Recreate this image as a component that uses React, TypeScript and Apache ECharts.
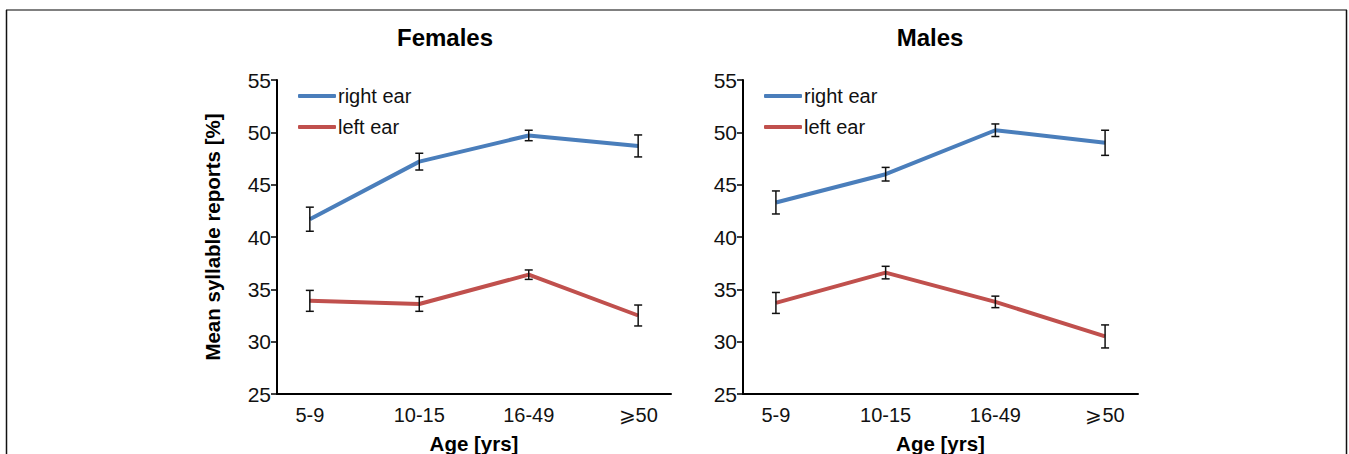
import React, { useEffect, useRef } from "react";
import * as echarts from "echarts";

const ageGroups = ["5-9", "10-15", "16-49", "⩾50"];
const yTicks = [25, 30, 35, 40, 45, 50, 55];

const femaleRight = [41.7, 47.2, 49.7, 48.7];
const femaleRightErr = [1.15, 0.8, 0.5, 1.05];
const femaleLeft = [33.9, 33.6, 36.4, 32.5];
const femaleLeftErr = [1.0, 0.7, 0.45, 1.0];

const maleRight = [43.3, 46.0, 50.2, 49.0];
const maleRightErr = [1.1, 0.65, 0.6, 1.2];
const maleLeft = [33.7, 36.6, 33.8, 30.5];
const maleLeftErr = [1.0, 0.6, 0.55, 1.1];

const BLUE = "#4a7ebb";
const RED = "#c0504d";
const FONT = "Liberation Sans, Arial, sans-serif";

function errData(mean: number[], err: number[]) {
  return mean.map((m, i) => [i, m - err[i], m + err[i]]);
}

function errSeries(idx: number, mean: number[], err: number[]) {
  return {
    type: "custom",
    xAxisIndex: idx,
    yAxisIndex: idx,
    z: 5,
    silent: true,
    encode: { x: 0, y: [1, 2] },
    data: errData(mean, err),
    renderItem: (params: any, api: any) => {
      const x = api.value(0);
      const lo = api.coord([x, api.value(1)]);
      const hi = api.coord([x, api.value(2)]);
      const w = 4;
      const st = { stroke: "#111", lineWidth: 1.5 };
      return {
        type: "group",
        children: [
          { type: "line", shape: { x1: lo[0], y1: lo[1], x2: hi[0], y2: hi[1] }, style: st },
          { type: "line", shape: { x1: lo[0] - w, y1: lo[1], x2: lo[0] + w, y2: lo[1] }, style: st },
          { type: "line", shape: { x1: hi[0] - w, y1: hi[1], x2: hi[0] + w, y2: hi[1] }, style: st },
        ],
      };
    },
  };
}

function lineSeries(idx: number, name: string, data: number[], color: string) {
  return {
    type: "line",
    name,
    xAxisIndex: idx,
    yAxisIndex: idx,
    data: data.map((v, i) => [i, v]),
    symbol: "none",
    lineStyle: { color, width: 4 },
    itemStyle: { color },
    z: 3,
  };
}

function xAxis(idx: number) {
  return {
    type: "value",
    gridIndex: idx,
    min: -0.3,
    max: 3.3,
    name: "Age [yrs]",
    nameLocation: "middle",
    nameGap: 39,
    nameTextStyle: { fontFamily: FONT, fontWeight: "bold", fontSize: 20.5, color: "#000" },
    axisLine: { show: true, onZero: false, lineStyle: { color: "#000", width: 2 } },
    axisTick: { show: false },
    splitLine: { show: false },
    axisLabel: {
      customValues: [0, 1, 2, 3],
      formatter: (v: number) => ageGroups[Math.round(v)] ?? "",
      fontFamily: FONT,
      fontSize: 20,
      color: "#111",
      margin: 11,
    },
  };
}

function yAxis(idx: number, withName: boolean) {
  return {
    type: "value",
    gridIndex: idx,
    min: yTicks[0],
    max: yTicks[yTicks.length - 1],
    interval: 5,
    name: withName ? "Mean syllable reports [%]" : "",
    nameLocation: "middle",
    nameGap: 54,
    nameTextStyle: { fontFamily: FONT, fontWeight: "bold", fontSize: 20.5, color: "#000" },
    axisLine: { show: true, onZero: false, lineStyle: { color: "#000", width: 2 } },
    axisTick: { show: true, length: 6, lineStyle: { color: "#000", width: 1.5 } },
    splitLine: { show: false },
    axisLabel: { fontFamily: FONT, fontSize: 21, color: "#111", margin: 6 },
  };
}

function legend(left: number) {
  return {
    orient: "vertical",
    left,
    top: 85,
    padding: 0,
    icon: "roundRect",
    itemWidth: 38,
    itemHeight: 4,
    itemGap: 9,
    data: ["right ear", "left ear"],
    textStyle: { fontFamily: FONT, fontSize: 20, color: "#111", lineHeight: 22, padding: [0, 0, 0, -3] },
  };
}

export default function App() {
  const ref = useRef<HTMLDivElement>(null);
  useEffect(() => {
    const chart = echarts.init(ref.current!, null, { renderer: "svg" });
    chart.setOption({
      animation: false,
      backgroundColor: "#fff",
      grid: [
        { left: 277, top: 80, width: 394, height: 314, outerBoundsMode: "none", containLabel: false },
        { left: 743, top: 80, width: 395, height: 314, outerBoundsMode: "none", containLabel: false },
      ],
      xAxis: [xAxis(0), xAxis(1)],
      yAxis: [yAxis(0, true), yAxis(1, false)],
      legend: [legend(298), legend(764)],
      series: [
        lineSeries(0, "right ear", femaleRight, BLUE),
        lineSeries(0, "left ear", femaleLeft, RED),
        errSeries(0, femaleRight, femaleRightErr),
        errSeries(0, femaleLeft, femaleLeftErr),
        lineSeries(1, "right ear", maleRight, BLUE),
        lineSeries(1, "left ear", maleLeft, RED),
        errSeries(1, maleRight, maleRightErr),
        errSeries(1, maleLeft, maleLeftErr),
      ],
      graphic: [
        { type: "line", shape: { x1: 6, y1: 10, x2: 1347, y2: 10 }, style: { stroke: "#808080", lineWidth: 2 } },
        { type: "line", shape: { x1: 6.5, y1: 10, x2: 6.5, y2: 454 }, style: { stroke: "#111", lineWidth: 1.5 } },
        { type: "line", shape: { x1: 1346.5, y1: 10, x2: 1346.5, y2: 454 }, style: { stroke: "#111", lineWidth: 1.5 } },
        {
          type: "text",
          x: 445,
          y: 37,
          style: { text: "Females", fontFamily: FONT, fontWeight: "bold", fontSize: 24, fill: "#000", textAlign: "center", textVerticalAlign: "middle" },
        },
        {
          type: "text",
          x: 930,
          y: 37,
          style: { text: "Males", fontFamily: FONT, fontWeight: "bold", fontSize: 24, fill: "#000", textAlign: "center", textVerticalAlign: "middle" },
        },
      ],
    });
    return () => chart.dispose();
  }, []);
  return <div ref={ref} style={{ position: "absolute", left: 0, top: 0, width: 1349, height: 454 }} />;
}
